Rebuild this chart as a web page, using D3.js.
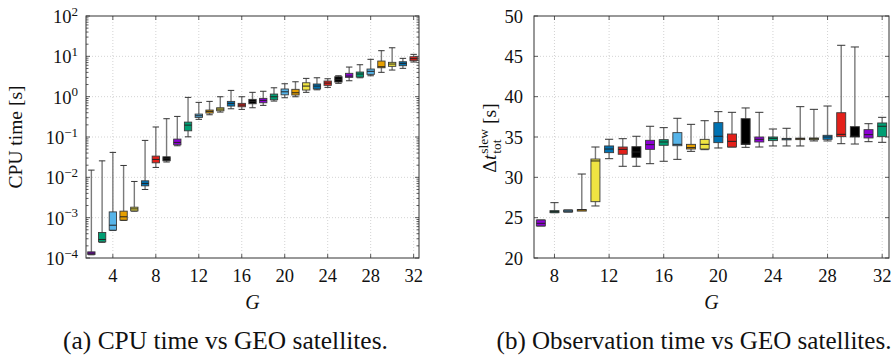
<!DOCTYPE html>
<html>
<head>
<meta charset="utf-8">
<script src="https://cdn.jsdelivr.net/npm/d3@7"></script>
<style>
    body { margin: 0; background: #fff; }
    svg { display: block; }
    text { font-family: "Liberation Serif", "DejaVu Serif", serif; fill: #111; }
</style>
</head>
<body>
<div id="chart"></div>
<script>
// colour cycle shared by both panels
var palette = ["#8C00D4", "#009E73", "#56B4E9", "#E69F00", "#F0E442", "#0072B2", "#E4201A", "#000000"];

// (a) CPU time [s] vs number of GEO satellites
var cpuG = [2, 3, 4, 5, 6, 7, 8, 9, 10, 11, 12, 13, 14, 15, 16, 17, 18, 19, 20, 21, 22, 23, 24, 25, 26, 27, 28, 29, 30, 31, 32];
var cpuLo = [1.2e-4, 2.45e-4, 4.8e-4, 8.5e-4, 1.45e-3, 5.0e-3, 0.0176, 0.024, 0.0606, 0.101, 0.274, 0.356, 0.415, 0.501, 0.484, 0.531,
    0.608, 0.778, 0.94, 0.995, 1.28, 1.48, 1.70, 2.14, 2.48, 2.94, 3.30, 4.01, 4.57, 5.04, 7.22];
var cpuQ1 = [1.22e-4, 2.51e-4, 4.9e-4, 8.67e-4, 1.47e-3, 6.15e-3, 0.0229, 0.0257, 0.064, 0.1425, 0.306, 0.392, 0.447, 0.585, 0.561, 0.667,
    0.706, 0.838, 1.11, 1.10, 1.46, 1.55, 1.91, 2.30, 3.01, 3.06, 3.57, 5.21, 5.65, 5.85, 7.78];
var cpuMed = [1.32e-4, 2.88e-4, 6.5e-4, 1.05e-3, 1.65e-3, 7.06e-3, 0.0278, 0.0288, 0.0734, 0.197, 0.336, 0.432, 0.492, 0.682, 0.619, 0.764,
    0.809, 0.995, 1.32, 1.25, 1.83, 1.83, 2.17, 2.69, 3.24, 3.64, 4.25, 5.52, 6.44, 6.70, 8.72];
var cpuQ3 = [1.42e-4, 4.30e-4, 1.39e-3, 1.45e-3, 1.82e-3, 8.2e-3, 0.0336, 0.0323, 0.0887, 0.234, 0.370, 0.466, 0.531, 0.764, 0.682, 0.857,
    0.908, 1.16, 1.55, 1.52, 2.21, 2.06, 2.44, 3.12, 3.79, 4.08, 4.84, 7.64, 7.10, 7.35, 9.77];
var cpuHi = [0.0151, 0.0256, 0.0415, 0.0197, 7.9e-3, 0.0824, 0.177, 0.284, 0.324, 0.96, 0.722, 0.764, 0.995, 1.43, 0.995, 1.28,
    1.36, 1.66, 2.09, 2.34, 2.84, 2.94, 2.78, 3.30, 5.42, 6.19, 8.43, 13.8, 16.3, 8.91, 11.2];

// (b) total slew time [s] vs number of GEO satellites
var slewG = [7, 8, 9, 10, 11, 12, 13, 14, 15, 16, 17, 18, 19, 20, 21, 22, 23, 24, 25, 26, 27, 28, 29, 30, 31, 32];
var slewLo = [23.97, 25.62, 25.70, 25.93, 26.45, 32.31, 31.37, 31.37, 31.69, 31.99, 32.23, 33.22, 33.43, 33.64, 33.76, 33.72,
    33.76, 33.89, 33.89, 33.89, 34.51, 34.51, 34.17, 34.13, 34.42, 34.34];
var slewQ1 = [23.97, 25.62, 25.70, 25.93, 26.98, 33.06, 32.86, 32.48, 33.47, 33.97, 33.92, 33.51, 33.51, 34.30, 33.76, 34.09,
    34.38, 34.55, 34.67, 34.71, 34.67, 34.71, 35.04, 35.00, 34.88, 35.04];
var slewMed = [24.30, 25.75, 25.82, 25.97, 32.03, 33.51, 33.47, 33.14, 34.05, 34.38, 34.09, 33.68, 34.09, 35.09, 34.46, 34.13,
    34.71, 34.83, 34.75, 34.79, 34.79, 35.00, 35.33, 35.10, 35.29, 36.33];
var slewQ3 = [24.71, 25.87, 25.95, 26.00, 32.27, 33.89, 33.76, 33.80, 34.59, 34.67, 35.54, 34.09, 34.71, 36.78, 35.37, 37.27,
    35.00, 35.00, 34.83, 34.86, 34.88, 35.21, 38.01, 36.28, 35.91, 36.74];
var slewHi = [24.71, 26.86, 25.95, 30.41, 33.76, 34.72, 34.79, 35.09, 36.33, 36.16, 37.32, 36.57, 37.02, 38.14, 38.06, 38.60,
    38.06, 35.99, 36.08, 38.76, 38.43, 38.84, 46.37, 46.16, 36.65, 37.44];

var cpuTicksX = [4, 8, 12, 16, 20, 24, 28, 32];
var cpuTicksY = [1e-4, 1e-3, 1e-2, 1e-1, 1e0, 1e1, 1e2];
var slewTicksX = [8, 12, 16, 20, 24, 28, 32];
var slewTicksY = [20, 25, 30, 35, 40, 45, 50];

var W = 895, H = 357;
var plotTop = 16, plotBottom = 258;
var tickFont = 18.5, labelFont = 19.5;

var svg = d3.select("#chart").append("svg")
    .attr("width", W)
    .attr("height", H);

function rows(G, lo, q1, med, q3, hi) {
    return G.map(function(g, i) {
        return {G: g, lo: lo[i], q1: q1[i], med: med[i], q3: q3[i], hi: hi[i], color: palette[i % palette.length]};
    });
}

function drawPanel(opt) {
    var x = opt.x, y = opt.y;
    var g = svg.append("g");
    var x0 = x.range()[0], x1 = x.range()[1];

    // grid
    g.selectAll(".gridX")
        .data(opt.ticksX)
        .enter().append("line")
        .attr("x1", function(d) { return x(d); })
        .attr("x2", function(d) { return x(d); })
        .attr("y1", plotTop)
        .attr("y2", plotBottom)
        .style("stroke", "#c8c8c8")
        .style("stroke-width", 0.8)
        .style("stroke-dasharray", "1,2");
    g.selectAll(".gridY")
        .data(opt.ticksY.slice(1, -1))
        .enter().append("line")
        .attr("x1", x0)
        .attr("x2", x1)
        .attr("y1", function(d) { return y(d); })
        .attr("y2", function(d) { return y(d); })
        .style("stroke", "#c8c8c8")
        .style("stroke-width", 0.8)
        .style("stroke-dasharray", "1,2");

    // inward ticks on all four sides
    var ticks = g.append("g").style("stroke", "#333").style("stroke-width", 0.8);
    opt.ticksX.forEach(function(t) {
        ticks.append("line").attr("x1", x(t)).attr("x2", x(t)).attr("y1", plotBottom).attr("y2", plotBottom - 4);
        ticks.append("line").attr("x1", x(t)).attr("x2", x(t)).attr("y1", plotTop).attr("y2", plotTop + 4);
    });
    opt.ticksY.forEach(function(t) {
        ticks.append("line").attr("x1", x0).attr("x2", x0 + 4).attr("y1", y(t)).attr("y2", y(t));
        ticks.append("line").attr("x1", x1).attr("x2", x1 - 4).attr("y1", y(t)).attr("y2", y(t));
    });
    (opt.minorY || []).forEach(function(t) {
        ticks.append("line").attr("x1", x0).attr("x2", x0 + 2.5).attr("y1", y(t)).attr("y2", y(t));
        ticks.append("line").attr("x1", x1).attr("x2", x1 - 2.5).attr("y1", y(t)).attr("y2", y(t));
    });

    // boxes
    var bw = opt.boxW, cw = opt.capW;
    var box = g.selectAll(".box")
        .data(opt.data)
        .enter().append("g")
        .attr("class", "box");

    box.append("line")
        .attr("x1", function(d) { return x(d.G); })
        .attr("x2", function(d) { return x(d.G); })
        .attr("y1", function(d) { return y(d.hi); })
        .attr("y2", function(d) { return y(d.lo); })
        .style("stroke", "#7a7a7a")
        .style("stroke-width", 1.4);
    box.append("line")
        .attr("x1", function(d) { return x(d.G - cw / 2); })
        .attr("x2", function(d) { return x(d.G + cw / 2); })
        .attr("y1", function(d) { return y(d.hi); })
        .attr("y2", function(d) { return y(d.hi); })
        .style("stroke", "#333")
        .style("stroke-width", 1);
    box.append("line")
        .attr("x1", function(d) { return x(d.G - cw / 2); })
        .attr("x2", function(d) { return x(d.G + cw / 2); })
        .attr("y1", function(d) { return y(d.lo); })
        .attr("y2", function(d) { return y(d.lo); })
        .style("stroke", "#333")
        .style("stroke-width", 1);
    box.append("rect")
        .attr("x", function(d) { return x(d.G - bw / 2); })
        .attr("width", function(d) { return x(d.G + bw / 2) - x(d.G - bw / 2); })
        .attr("y", function(d) { return y(d.q3); })
        .attr("height", function(d) { return Math.max(1.5, y(d.q1) - y(d.q3)); })
        .style("fill", function(d) { return d.color; })
        .style("stroke", "#3a3a3a")
        .style("stroke-width", 0.9);
    box.append("line")
        .attr("x1", function(d) { return x(d.G - bw / 2); })
        .attr("x2", function(d) { return x(d.G + bw / 2); })
        .attr("y1", function(d) { return y(d.med); })
        .attr("y2", function(d) { return y(d.med); })
        .style("stroke", "#222")
        .style("stroke-width", 1);

    // frame
    g.append("rect")
        .attr("x", x0)
        .attr("y", plotTop)
        .attr("width", x1 - x0)
        .attr("height", plotBottom - plotTop)
        .style("fill", "none")
        .style("stroke", "#333")
        .style("stroke-width", 1);

    // tick labels
    g.selectAll(".xLabel")
        .data(opt.ticksX)
        .enter().append("text")
        .attr("x", function(d) { return x(d); })
        .attr("y", 281.5)
        .attr("text-anchor", "middle")
        .attr("font-size", tickFont)
        .text(function(d) { return d; });

    g.append("text")
        .attr("x", (x0 + x1) / 2)
        .attr("y", 308.5)
        .attr("text-anchor", "middle")
        .attr("font-size", 20)
        .attr("font-style", "italic")
        .text("G");

    return g;
}

function fitCaption(text, cx, width) {
    var t = svg.append("text")
        .attr("x", cx)
        .attr("y", 349)
        .attr("text-anchor", "middle")
        .attr("font-size", 19)
        .text(text);
    var len = t.node().getComputedTextLength();
    t.attr("font-size", 19 * width / len);
}

// ---- panel (a)
var xCpu = d3.scaleLinear().domain([1.5, 32.5]).range([86, 419]);
var yCpu = d3.scaleLog().domain([1e-4, 1e2]).range([plotBottom, plotTop]);
var minorCpu = [];
cpuTicksY.slice(0, -1).forEach(function(t) {
    d3.range(2, 10).forEach(function(m) { minorCpu.push(t * m); });
});

var gA = drawPanel({
    x: xCpu, y: yCpu,
    ticksX: cpuTicksX, ticksY: cpuTicksY, minorY: minorCpu,
    boxW: 0.68, capW: 0.6,
    data: rows(cpuG, cpuLo, cpuQ1, cpuMed, cpuQ3, cpuHi)
});

var yLabA = gA.selectAll(".yLabel")
    .data(cpuTicksY)
    .enter().append("text")
    .attr("x", 78)
    .attr("y", function(d) { return yCpu(d) + 7; })
    .attr("text-anchor", "end")
    .attr("font-size", tickFont);
yLabA.append("tspan").text("10");
yLabA.append("tspan")
    .attr("dy", -7.5)
    .attr("font-size", 13)
    .text(function(d) {
        var e = Math.round(Math.log10(d));
        return e < 0 ? "\u2212" + (-e) : "" + e;
    });

gA.append("text")
    .attr("transform", "translate(22,137) rotate(-90)")
    .attr("text-anchor", "middle")
    .attr("font-size", labelFont)
    .text("CPU time [s]");

fitCaption("(a) CPU time vs GEO satellites.", 225.5, 325);

// ---- panel (b)
var xSlew = d3.scaleLinear().domain([6.5, 32.5]).range([534, 889]);
var ySlew = d3.scaleLinear().domain([20, 50]).range([plotBottom, plotTop]);

var gB = drawPanel({
    x: xSlew, y: ySlew,
    ticksX: slewTicksX, ticksY: slewTicksY,
    boxW: 0.66, capW: 0.6,
    data: rows(slewG, slewLo, slewQ1, slewMed, slewQ3, slewHi)
});

gB.selectAll(".yLabel")
    .data(slewTicksY)
    .enter().append("text")
    .attr("x", 523)
    .attr("y", function(d) { return ySlew(d) + 6.5; })
    .attr("text-anchor", "end")
    .attr("font-size", tickFont)
    .text(function(d) { return d; });

// Δt_tot^slew [s] label, rotated
var lab = gB.append("g").attr("transform", "translate(496,138) rotate(-90)");
var delta = lab.append("text").attr("font-size", labelFont).text("\u0394");
var tt = lab.append("text").attr("font-size", labelFont).attr("font-style", "italic").text("t");
var sup = lab.append("text").attr("font-size", 13.5).text("slew");
var sub = lab.append("text").attr("font-size", 13.5).text("tot");
var unit = lab.append("text").attr("font-size", labelFont).text("[s]");
var wD = delta.node().getComputedTextLength(),
    wT = tt.node().getComputedTextLength(),
    wS = Math.max(sup.node().getComputedTextLength(), sub.node().getComputedTextLength()),
    wU = unit.node().getComputedTextLength();
var total = wD + wT + 1 + wS + 5 + wU;
var cx = -total / 2;
delta.attr("x", cx).attr("y", 0);
tt.attr("x", cx + wD).attr("y", 0);
sup.attr("x", cx + wD + wT + 1).attr("y", -8);
sub.attr("x", cx + wD + wT + 1).attr("y", 4.5);
unit.attr("x", cx + wD + wT + 1 + wS + 5).attr("y", 0);

fitCaption("(b) Observation time vs GEO satellites.", 694, 395);
</script>
</body>
</html>
